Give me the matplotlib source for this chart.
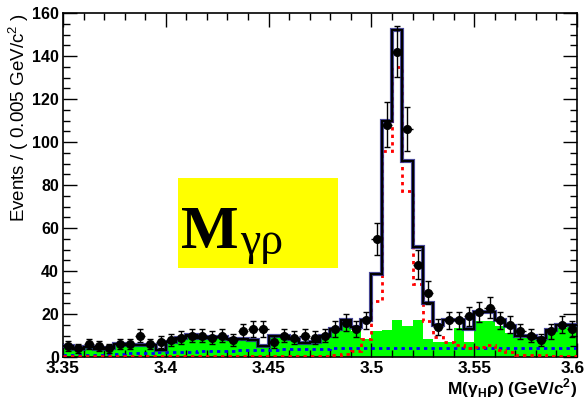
import numpy as np
import matplotlib
matplotlib.use("Agg")
import matplotlib.pyplot as plt
import matplotlib.transforms as mtransforms
from matplotlib.patches import Rectangle
from matplotlib.ticker import MultipleLocator

plt.rcParams['font.family'] = ['Liberation Sans', 'DejaVu Sans']
plt.rcParams['mathtext.fontset'] = 'custom'
plt.rcParams['mathtext.rm'] = 'Liberation Sans'
plt.rcParams['mathtext.bf'] = 'Liberation Sans:bold'

# binning: 50 bins of 0.005 GeV/c^2
x_lo, x_hi, bin_w = 3.35, 3.60, 0.005
edges = np.linspace(x_lo, x_hi, 51)
centers = edges[:-1] + bin_w / 2

# data counts per bin and their errors
data_counts = [5, 4, 6, 5, 4, 6, 6, 10, 6, 7,
               8, 9, 10, 10, 9, 10, 8, 12, 13, 13,
               7, 10, 9, 10, 9, 10, 13, 16, 13, 17,
               55, 108, 142, 106, 43, 30, 14, 17, 17, 19,
               21, 23, 17, 15, 12, 10, 8, 12, 15, 13]
data_err = [2.24, 2.0, 2.45, 2.24, 2.0, 2.45, 2.45, 3.16, 2.45, 2.65,
            2.83, 3.0, 3.16, 3.16, 3.0, 3.16, 2.83, 3.46, 3.61, 3.61,
            2.65, 3.16, 3.0, 3.16, 3.0, 3.16, 3.61, 4.0, 3.61, 4.12,
            7.42, 10.39, 11.92, 10.3, 6.56, 5.48, 3.74, 4.12, 4.12, 4.36,
            4.58, 4.8, 4.12, 3.87, 3.46, 3.16, 2.83, 3.46, 3.87, 3.61]

# total fit
fit_total = [5.3, 3.9, 4.8, 3.6, 4.4, 6.1, 5.8, 5.8, 5.8, 3.3,
             7.0, 8.8, 10.3, 8.8, 9.5, 9.5, 8.4, 8.4, 8.0, 4.9,
             9.8, 9.8, 8.4, 6.5, 7.0, 10.0, 13.0, 17.0, 14.0, 17.0,
             38.5, 110.0, 152.0, 91.0, 51.0, 25.0, 15.0, 17.0, 17.0, 13.0,
             21.0, 21.0, 17.4, 14.2, 9.9, 9.9, 8.8, 12.7, 15.0, 15.0]

# background component (filled)
bkg_mc = [5.1, 3.7, 4.6, 3.4, 4.2, 5.9, 5.6, 5.6, 5.6, 3.1,
          6.8, 8.6, 10.1, 8.6, 9.3, 9.3, 8.2, 8.2, 7.8, 4.7,
          9.6, 9.6, 8.2, 6.3, 6.7, 9.4, 12.0, 15.5, 12.0, 8.5,
          12.0, 12.6, 17.0, 14.5, 17.0, 8.5, 7.0, 7.0, 13.5, 7.0,
          16.6, 16.6, 14.2, 11.1, 8.8, 9.4, 8.8, 11.9, 13.6, 14.2]

# signal shape
signal = [0.3, 0.3, 0.3, 0.3, 0.3, 0.3, 0.3, 0.3, 0.3, 0.3,
          0.3, 0.3, 0.3, 0.3, 0.3, 0.3, 0.3, 0.3, 0.3, 0.3,
          0.4, 0.4, 0.4, 0.4, 0.4, 0.5, 1.0, 1.5, 3.0, 8.3,
          26.0, 96.0, 135.0, 77.0, 34.0, 16.6, 9.5, 7.2, 5.6, 4.1,
          4.5, 5.6, 3.3, 2.5, 1.1, 1.0, 0.7, 0.5, 0.5, 0.4]

# smooth background component
bkg_poly = [0.7, 0.8, 0.9, 1.0, 1.3, 1.5, 1.7, 1.8, 1.9, 2.1,
            2.3, 2.4, 2.5, 2.6, 2.8, 2.9, 3.0, 3.1, 3.2, 3.3,
            3.4, 3.5, 3.6, 3.7, 3.8, 3.9, 4.0, 4.0, 4.0, 4.0,
            4.0, 4.1, 4.1, 4.1, 4.1, 4.1, 4.1, 4.1, 4.1, 4.1,
            4.1, 4.1, 4.1, 4.1, 4.1, 4.1, 4.1, 4.1, 4.1, 4.1]

x_ticks = [3.35, 3.40, 3.45, 3.50, 3.55, 3.60]
x_ticklabels = ['3.35', '3.4', '3.45', '3.5', '3.55', '3.6']
y_ticks = [0, 20, 40, 60, 80, 100, 120, 140, 160]

fig = plt.figure(figsize=(5.87, 4.04), dpi=100)
ax = fig.add_axes([63 / 587, 47 / 404, 514 / 587, 344 / 404])

ax.stairs(bkg_mc, edges, fill=True, color='#00ff00', zorder=1)
ax.stairs(bkg_poly, edges, baseline=None, color='#0000ff', lw=2,
          linestyle=(0, (1.2, 1.5)), zorder=2)
ax.stairs(signal, edges, baseline=None, color='#ff0000', lw=2,
          linestyle=(0, (1.2, 1.5)), zorder=3)
ax.stairs(fit_total, edges, baseline=None, color='#2a2a8a', lw=3.0,
          alpha=0.85, zorder=4)
ax.stairs(fit_total, edges, baseline=None, color='black', lw=1.5, zorder=5)

ax.errorbar(centers, data_counts, yerr=data_err, fmt='o', color='black',
            ms=5.5, lw=1, capsize=2.5, zorder=6)
ax.errorbar(centers, data_counts, xerr=bin_w / 2, fmt='none', ecolor='black',
            lw=1, zorder=6)

ax.set_xlim(x_lo, x_hi)
ax.set_ylim(0, 160)
ax.set_xticks(x_ticks)
ax.set_xticklabels(x_ticklabels)
ax.set_yticks(y_ticks)
ax.xaxis.set_minor_locator(MultipleLocator(0.01))
ax.yaxis.set_minor_locator(MultipleLocator(5))
ax.tick_params(which='both', direction='in', top=True, right=True, width=1)
ax.tick_params(which='major', length=10)
ax.tick_params(which='minor', length=5)
ax.tick_params(axis='x', which='major', labelsize=12.5, pad=3)
ax.tick_params(axis='y', which='major', labelsize=11.5, pad=3)
for lab in ax.get_xticklabels() + ax.get_yticklabels():
    lab.set_fontweight('bold')
# keep the last x label inside the canvas
last = ax.get_xticklabels()[-1]
last.set_transform(last.get_transform() +
                   mtransforms.ScaledTranslation(-4 / 100, 0, fig.dpi_scale_trans))
for sp in ax.spines.values():
    sp.set_linewidth(1.2)

ax.set_xlabel(r'M(γ$_{\mathbf{H}}$ρ) (GeV/c$^{\mathbf{2}}$)', loc='right',
              fontsize=12.5, fontweight='bold', labelpad=0)
ax.set_ylabel(r'Events / ( 0.005 GeV/c$^{2}$ )', loc='top', fontsize=13.5,
              labelpad=1)

# label box
ax.add_patch(Rectangle((0.224, 0.259), 0.311, 0.262, transform=ax.transAxes,
                       facecolor='#ffff00', edgecolor='none', zorder=7))
ax.text(0.229, 0.318, 'M', transform=ax.transAxes, fontsize=44,
        fontweight='bold', family=['Liberation Serif', 'DejaVu Serif'],
        va='baseline', ha='left', zorder=8)
ax.text(0.344, 0.300, 'γρ', transform=ax.transAxes, fontsize=33,
        family=['Liberation Serif', 'DejaVu Serif'],
        va='baseline', ha='left', zorder=8)

fig.savefig('out.png', dpi=100)
